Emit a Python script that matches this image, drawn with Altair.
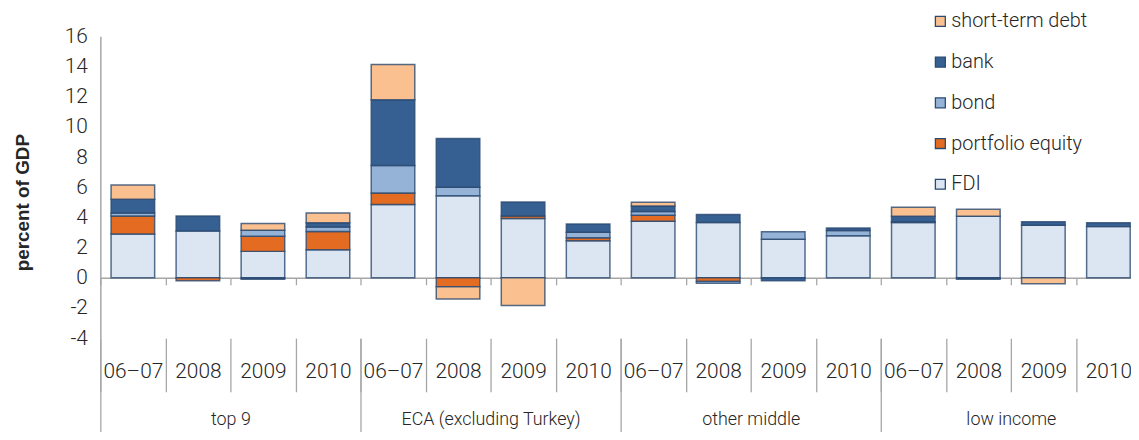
import altair as alt
import pandas as pd

groups = ["top 9", "ECA (excluding Turkey)", "other middle", "low income"]
years = ["06–07", "2008", "2009", "2010"]

series_stack = ["FDI", "portfolio equity", "bond", "bank", "short-term debt"]
legend_order = ["short-term debt", "bank", "bond", "portfolio equity", "FDI"]
legend_colors = ["#fac090", "#366092", "#95b3d7", "#e46c22", "#dce6f2"]

# values per bar: top 9 (4 years), ECA (4), other middle (4), low income (4)
fdi = [2.9, 3.1, 1.75, 1.85, 4.85, 5.43, 3.93, 2.45, 3.75, 3.66, 2.55, 2.78, 3.66, 4.08, 3.48, 3.39]
portfolio_equity = [1.2, -0.2, 1.0, 1.22, 0.76, -0.6, 0.17, 0.2, 0.4, -0.25, 0.0, 0.0, 0.0, 0.0, 0.0, 0.0]
bond = [0.2, 0.0, 0.4, 0.3, 1.83, 0.57, 0.0, 0.37, 0.25, -0.12, 0.5, 0.35, 0.05, 0.0, 0.0, 0.0]
bank = [0.9, 1.0, -0.1, 0.27, 4.35, 3.23, 0.92, 0.55, 0.35, 0.53, -0.2, 0.17, 0.37, -0.1, 0.24, 0.26]
short_term_debt = [0.95, 0.0, 0.44, 0.66, 2.35, -0.8, -1.84, 0.0, 0.26, 0.0, 0.0, 0.0, 0.6, 0.46, -0.4, 0.0]

y_ticks = [-4, -2, 0, 2, 4, 6, 8, 10, 12, 14, 16]

keys = [f"{g}|{y}" for g in groups for y in years]
values = {
    "FDI": fdi,
    "portfolio equity": portfolio_equity,
    "bond": bond,
    "bank": bank,
    "short-term debt": short_term_debt,
}
rows = []
for s_i, s in enumerate(series_stack):
    for k_i, k in enumerate(keys):
        v = values[s][k_i]
        if v != 0:
            rows.append({"key": k, "series": s, "value": v, "ord": s_i})
df = pd.DataFrame(rows)
df_keys = pd.DataFrame({"key": keys})
df_groups = pd.DataFrame({"group": groups})

FONT = "Roboto"
GRAY = "#a6a6a6"
TXT = "#262626"
H = 304
zero_from_bottom = H * 4 / 20

bars = alt.Chart(df).mark_bar(
    width={"band": 0.67}, stroke="#2a4a70", strokeWidth=1.5, strokeOpacity=0.8
).encode(
    x=alt.X("key:N", sort=keys,
            scale=alt.Scale(domain=keys, paddingInner=0, paddingOuter=0),
            axis=alt.Axis(orient="bottom", offset=-zero_from_bottom, labels=False, title=None,
                          domainColor=GRAY, domainWidth=1.5, tickColor=GRAY, tickWidth=1.3,
                          tickSize=7, tickBand="extent", grid=False)),
    y=alt.Y("value:Q", stack="zero",
            scale=alt.Scale(domain=[-4, 16], nice=False),
            axis=alt.Axis(values=y_ticks, ticks=False, grid=False, domainColor=GRAY, domainWidth=1.5,
                          labelExpr="'' + datum.value",
                          labelFont=FONT, labelFontWeight=300, labelFontSize=21, labelColor=TXT,
                          labelPadding=13, title="percent of GDP",
                          titleFont="Liberation Sans", titleFontWeight="bold",
                          titleFontSize=19, titleColor=TXT,
                          titleAngle=270, titleAlign="center", titleBaseline="alphabetic",
                          titleX=-72, titleY=167)),
    color=alt.Color("series:N", scale=alt.Scale(domain=legend_order, range=legend_colors),
                    legend=alt.Legend(orient="none", legendX=836, legendY=-25, title=None,
                                      symbolType="square", symbolSize=100,
                                      symbolStrokeColor="#2a4a70", symbolStrokeWidth=1.3,
                                      labelFont=FONT, labelFontWeight=300, labelFontSize=20,
                                      labelColor=TXT, rowPadding=21, labelOffset=1, padding=0,
                                      labelLimit=400)),
    order=alt.Order("ord:Q", sort="ascending"),
)

year_axis = alt.Chart(df_keys).mark_point(opacity=0).encode(
    x=alt.X("key:N", sort=keys,
            scale=alt.Scale(domain=keys, paddingInner=0, paddingOuter=0),
            axis=alt.Axis(orient="bottom", offset=0, domain=False, grid=False, title=None,
                          tickColor=GRAY, tickWidth=1.3, tickSize=54, tickBand="extent",
                          labelExpr="split(datum.label, '|')[1]", labelAngle=0,
                          labelBaseline="middle", labelPadding=-20, labelFont=FONT,
                          labelFontWeight=300, labelFontSize=21, labelColor=TXT,
                          labelOverlap=False, labelFlush=False, labelLimit=400)),
)

group_axis = alt.Chart(df_groups).mark_point(opacity=0).encode(
    x=alt.X("group:N", sort=groups,
            scale=alt.Scale(domain=groups, paddingInner=0, paddingOuter=0),
            axis=alt.Axis(orient="bottom", offset=0, domain=False, grid=False, title=None,
                          tickColor=GRAY, tickWidth=1.3, tickSize=101, tickBand="extent",
                          labelAngle=0, labelBaseline="middle", labelPadding=-19,
                          labelFont=FONT, labelFontWeight=300, labelFontSize=18,
                          labelColor=TXT, labelOverlap=False, labelFlush=False,
                          labelLimit=400)),
)

chart = alt.layer(bars, year_axis, group_axis).resolve_scale(x="independent").properties(
    width=1048, height=H,
    autosize=alt.AutoSizeParams(type="none"),
    padding={"left": 93, "top": 27, "right": -10, "bottom": 93},
    background="white",
).configure_view(stroke=None)

chart.save("out.html", embed_options={"renderer": "svg", "actions": False})
